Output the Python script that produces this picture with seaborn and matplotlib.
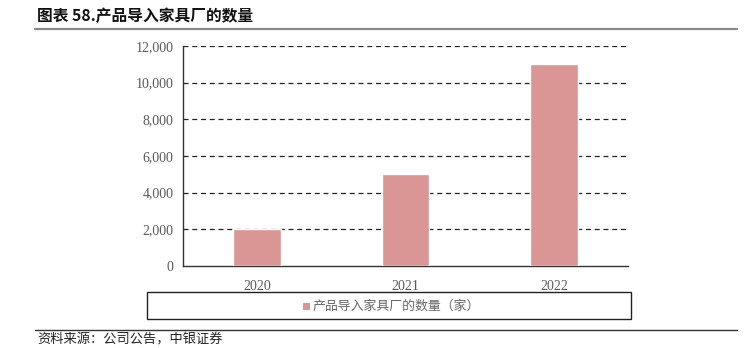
import matplotlib
matplotlib.use("Agg")
import matplotlib.pyplot as plt
import seaborn as sns
import pandas as pd
from matplotlib.ticker import FuncFormatter
from matplotlib.patches import Rectangle
from matplotlib.lines import Line2D

years = ["2020", "2021", "2022"]
values = [2000, 5000, 11000]
series_name = "产品导入家具厂的数量（家）"
title = "图表 58.产品导入家具厂的数量"
source = "资料来源：公司公告，中银证券"

sns.set_theme(style="white")
plt.rcParams['font.family'] = ['Liberation Serif', 'Noto Sans CJK SC', 'DejaVu Sans']

W, H = 748, 348
fig = plt.figure(figsize=(W/100, H/100), dpi=100)
ax = fig.add_axes([183/W, 1-266/H, (628-183)/W, (266-46)/H])

df = pd.DataFrame({"year": years, "value": values})
sns.barplot(data=df, x="year", y="value", color="#D99694", width=0.32,
            saturation=1, ax=ax, zorder=3)

ax.set_xlim(-0.5, 2.5)
ax.set_ylim(0, 12000)
ax.set_yticks(range(0, 12001, 2000))
ax.yaxis.set_major_formatter(FuncFormatter(lambda v, p: f"{int(v):,}"))
ax.set_xlabel("")
ax.set_ylabel("")
for y in range(2000, 12001, 2000):
    ax.axhline(y, color="#222222", lw=0.9, ls=(0, (4, 3)), zorder=1)
for s in ["top", "right"]:
    ax.spines[s].set_visible(False)
ax.spines["left"].set_color("#333333")
ax.spines["bottom"].set_color("#333333")
ax.spines["left"].set_linewidth(1.0)
ax.spines["bottom"].set_linewidth(1.0)
ax.tick_params(axis="both", which="both", direction="out", length=4, width=0.8,
               color="#333333", labelsize=10, labelcolor="#595959", pad=3)
ax.tick_params(axis="x", pad=6)

# Legend box
fig.patches.append(Rectangle((147/W, 1-319/H), (631-147)/W, (319-292)/H,
                             transform=fig.transFigure, fill=False,
                             edgecolor="#222222", lw=1.0))
fig.patches.append(Rectangle((303/W, 1-309.5/H), 7/W, 7/H,
                             transform=fig.transFigure, facecolor="#D99694",
                             edgecolor="none"))
fig.text(313/W, 1-306/H, series_name, fontsize=9.3, color="#666666",
         va="center", ha="left", family=['Noto Sans CJK SC', 'DejaVu Sans'])

# Title and rules
fig.text(37/W, 1-16/H, title, fontsize=11.3, fontweight="bold", color="#111111",
         va="center", ha="left", family=['Noto Sans CJK SC', 'DejaVu Sans'])
fig.lines.append(Line2D([35/W, 737/W], [1-28.5/H, 1-28.5/H], transform=fig.transFigure,
                        color="#888888", lw=1.6))
fig.lines.append(Line2D([35/W, 737/W], [1-330/H, 1-330/H], transform=fig.transFigure,
                        color="#333333", lw=1.0))
fig.text(37/W, 1-340/H, source, fontsize=9.5, style="italic", color="#222222",
         va="center", ha="left", family=['Noto Sans CJK SC', 'DejaVu Sans'])

fig.savefig("out.png", dpi=100)
